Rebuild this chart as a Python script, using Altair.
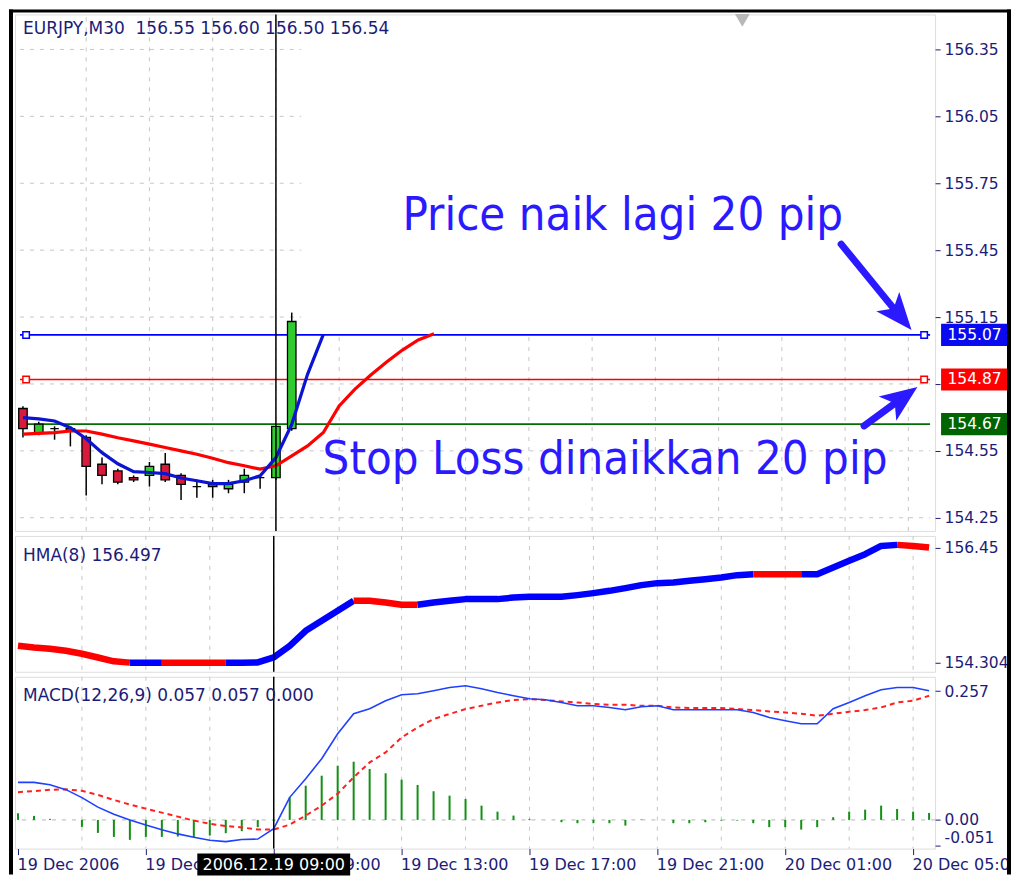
import altair as alt
import pandas as pd

# ---------------- values ----------------
candle_idx = list(range(18))
candle_open = [154.74, 154.63, 154.65, 154.65, 154.61, 154.49, 154.46, 154.43, 154.44,
               154.49, 154.44, 154.39, 154.40, 154.38, 154.41, 154.43, 154.43, 154.65]
candle_high = [154.75, 154.68, 154.66, 154.66, 154.62, 154.52, 154.47, 154.44, 154.50,
               154.54, 154.45, 154.42, 154.42, 154.42, 154.47, 154.44, 154.66, 155.17]
candle_low = [154.61, 154.62, 154.60, 154.57, 154.35, 154.40, 154.40, 154.41, 154.39,
              154.41, 154.33, 154.34, 154.34, 154.36, 154.36, 154.38, 154.42, 154.64]
candle_close = [154.65, 154.67, 154.65, 154.64, 154.48, 154.44, 154.41, 154.42, 154.48,
                154.42, 154.40, 154.39, 154.39, 154.40, 154.44, 154.43, 154.66, 155.13]

fast_ma = [154.699, 154.693, 154.684, 154.654, 154.604, 154.542, 154.492, 154.457, 154.453,
           154.448, 154.428, 154.416, 154.403, 154.403, 154.416, 154.438, 154.520, 154.669,
           154.893, 155.072]
slow_ma = [154.625, 154.628, 154.632, 154.639, 154.639, 154.625, 154.609, 154.595, 154.580,
           154.565, 154.550, 154.535, 154.517, 154.497, 154.483, 154.468, 154.483, 154.527,
           154.572, 154.632, 154.751, 154.827, 154.890, 154.948, 155.002, 155.047, 155.075]

hma = [154.620, 154.588, 154.564, 154.527, 154.471, 154.402, 154.330, 154.306, 154.304,
       154.304, 154.305, 154.304, 154.304, 154.306, 154.305, 154.310, 154.402, 154.620,
       154.899, 155.084, 155.270, 155.456, 155.456, 155.425, 155.382, 155.382, 155.425,
       155.456, 155.488, 155.488, 155.488, 155.517, 155.530, 155.530, 155.530, 155.562,
       155.599, 155.642, 155.692, 155.748, 155.785, 155.796, 155.828, 155.859, 155.889,
       155.934, 155.952, 155.952, 155.950, 155.952, 155.950, 156.075, 156.200, 156.324,
       156.478, 156.497, 156.478, 156.447]
# colour runs of the HMA line: (direction, first bar, last bar)
hma_runs = [("dn", 0, 7), ("up", 7, 9), ("dn", 9, 13), ("up", 13, 21), ("dn", 21, 25),
            ("up", 25, 46), ("dn", 46, 49), ("up", 49, 55), ("dn", 55, 57)]

macd_main = [0.0749, 0.0749, 0.0703, 0.0604, 0.0444, 0.0255, 0.0112, -0.0004, -0.0100, -0.0197,
             -0.0279, -0.0345, -0.0406, -0.0432, -0.0392, -0.0382, -0.0173, 0.0450, 0.0823, 0.1221,
             0.1719, 0.2118, 0.2217, 0.2376, 0.2496, 0.2516, 0.2576, 0.2641, 0.2675, 0.2616,
             0.2542, 0.2476, 0.2416, 0.2396, 0.2343, 0.2277, 0.2277, 0.2243, 0.2197, 0.2257,
             0.2277, 0.2197, 0.2197, 0.2197, 0.2197, 0.2197, 0.2143, 0.2044, 0.1978, 0.1918,
             0.1918, 0.2217, 0.2343, 0.2476, 0.2596, 0.2641, 0.2641, 0.2576]
macd_signal = [0.0554, 0.0574, 0.0600, 0.0610, 0.0580, 0.0500, 0.0398, 0.0305, 0.0225, 0.0145,
               0.0066, -0.0014, -0.0078, -0.0122, -0.0149, -0.0193, -0.0193, -0.0094, 0.0086, 0.0285,
               0.0524, 0.0849, 0.1147, 0.1347, 0.1645, 0.1845, 0.2012, 0.2112, 0.2211, 0.2277,
               0.2343, 0.2390, 0.2410, 0.2390, 0.2363, 0.2343, 0.2311, 0.2297, 0.2297, 0.2277,
               0.2277, 0.2243, 0.2231, 0.2231, 0.2231, 0.2211, 0.2191, 0.2163, 0.2143, 0.2118,
               0.2078, 0.2118, 0.2157, 0.2191, 0.2243, 0.2343, 0.2376, 0.2476]
macd_hist = [0.0133, 0.0080, 0.0020, 0.0000, -0.0139, -0.0259, -0.0339, -0.0398, -0.0339, -0.0339,
             -0.0332, -0.0345, -0.0312, -0.0265, -0.0225, -0.0145, -0.0020, 0.0452, 0.0683, 0.0882,
             0.1082, 0.1161, 0.1016, 0.0930, 0.0803, 0.0697, 0.0572, 0.0484, 0.0418, 0.0285,
             0.0165, 0.0086, 0.0020, 0.0000, -0.0046, -0.0066, -0.0066, -0.0066, -0.0113, 0.0010,
             0.0000, -0.0066, -0.0066, -0.0046, -0.0014, -0.0014, -0.0066, -0.0145, -0.0145, -0.0193,
             -0.0145, 0.0054, 0.0165, 0.0205, 0.0285, 0.0219, 0.0165, 0.0139]

x_tick_values = [0, 8, 16, 24, 32, 40, 48, 56]
# the last label is cut by the window frame in the picture
x_tick_labels = ["19 Dec 2006", "19 Dec 05:00", "19 Dec 09:00", "19 Dec 13:00",
                 "19 Dec 17:00", "19 Dec 21:00", "20 Dec 01:00", "20 Dec 05:0"]
main_ticks = [156.35, 156.05, 155.75, 155.45, 155.15, 154.85, 154.55, 154.25]
hma_ticks = [156.45, 154.304]
macd_ticks = [0.257, 0.0, -0.051]

order_prices = [155.07, 154.87, 154.67]
order_labels = ["155.07", "154.87", "154.67"]

crosshair_bar = 16
crosshair_label = "2006.12.19 09:00"
title_main = "EURJPY,M30\u00a0 156.55 156.60 156.50 156.54"
title_hma = "HMA(8) 156.497"
title_macd = "MACD(12,26,9) 0.057 0.057 0.000"

annot_text = ["Price naik lagi 20 pip", "Stop Loss dinaikkan 20 pip"]
annot_bar = [24.0, 18.95]
annot_price = [155.54, 154.445]
arrow_tail_bar = [51.75, 53.2]
arrow_tail_price = [155.477, 154.662]
arrow_head_bar = [55.39, 55.55]
arrow_head_price = [155.161, 154.784]
arrow_angle = [140, 54]

# ---------------- styles ----------------
NAVY = "#1c1c78"
GRID = "#c6c6c6"
FONT = "DejaVu Sans"
ANN = "#2b1aff"
W = 921
H1, H2, H3 = 517, 136, 172
XDOM = [-0.1875, 57.375]
Y1DOM = [154.191, 156.507]
Y2DOM = [154.136, 156.664]
Y3DOM = [-0.0572, 0.2855]
line_colors = ["#0000ff", "#ff0000", "#007000"]
box_colors = ["#0a0af0", "#ff0000", "#006400"]
candle_colors = {"up": "#2fcc2f", "down": "#d81b3c"}
hma_colors = {"up": "#0000ff", "dn": "#ff0000"}

xs = alt.Scale(domain=XDOM, nice=False, zero=False)
ys1 = alt.Scale(domain=Y1DOM, nice=False, zero=False)
ys2 = alt.Scale(domain=Y2DOM, nice=False, zero=False)
ys3 = alt.Scale(domain=Y3DOM, nice=False, zero=False)

ystyle = dict(orient="right", tickSize=5, tickColor=NAVY, labelColor=NAVY, labelFont=FONT,
              labelFontSize=15.5, labelPadding=4, domain=False, grid=False, title=None,
              zindex=0, labelOverlap=False, labelFlush=False)
ax1 = alt.Axis(values=main_ticks,
               labelExpr="abs(datum.value - 154.85) < 0.001 ? '' : format(datum.value, '.2f')",
               **ystyle)
ax2 = alt.Axis(values=hma_ticks,
               labelExpr="datum.value > 155 ? '156.45' : '154.304'", **ystyle)
ax3 = alt.Axis(values=macd_ticks,
               labelExpr="datum.value > 0.1 ? '0.257' : (datum.value < -0.01 ? '-0.051' : '0.00')",
               labelBaseline={"condition": {"test": "datum.value < -0.01", "value": "bottom"},
                              "value": "middle"},
               **ystyle)
lab_expr = "[" + ",".join("'%s'" % s for s in x_tick_labels) + "][round(datum.value/8)]"
xax = alt.Axis(orient="bottom", values=x_tick_values, labelExpr=lab_expr, tickSize=6,
               tickColor=NAVY, labelColor=NAVY, labelFont=FONT, labelFontSize=16,
               labelAlign="left", labelBaseline="top", labelPadding=2, labelOffset=-1,
               domain=False, grid=False, title=None, zindex=0, labelOverlap=False,
               labelFlush=False)


def X(field, axis=None):
    return alt.X(field + ":Q", scale=xs, axis=axis)


def title_layer(text, y):
    return alt.Chart(pd.DataFrame({"t": [text]})).mark_text(
        align="left", baseline="middle", font=FONT, fontSize=17, color=NAVY
    ).encode(x=alt.value(8), y=alt.value(y), text="t:N")


# ---------------- main panel ----------------
def Y1(field):
    return alt.Y(field + ":Q", scale=ys1, axis=ax1)


vg_bars = [4 * k for k in range(1, 15)]
vg1 = pd.DataFrame({"i": vg_bars, "lo": Y1DOM[0],
                    "hi": [Y1DOM[1] if b <= crosshair_bar else order_prices[0] for b in vg_bars]})
hg1 = pd.DataFrame({"p": main_ticks, "x1": XDOM[0],
                    "x2": [XDOM[1] if p < order_prices[0] else 17.6 for p in main_ticks]})
candles = pd.DataFrame({"i": candle_idx, "o": candle_open, "h": candle_high,
                        "l": candle_low, "c": candle_close})
candles["col"] = [candle_colors["up"] if c >= o else candle_colors["down"]
                  for o, c in zip(candle_open, candle_close)]
fast_df = pd.DataFrame({"i": list(range(len(fast_ma))), "v": fast_ma})
slow_df = pd.DataFrame({"i": list(range(len(slow_ma))), "v": slow_ma})
orders = pd.DataFrame({"p": order_prices, "lab": order_labels, "lc": line_colors,
                       "bc": box_colors, "x1": XDOM[0], "x2": XDOM[1]})
squares = pd.DataFrame({"i": [0.2, 57.0, 0.2, 57.0],
                        "p": [order_prices[0], order_prices[0], order_prices[1], order_prices[1]],
                        "lc": [line_colors[0], line_colors[0], line_colors[1], line_colors[1]]})
annots = pd.DataFrame({"i": annot_bar, "p": annot_price, "t": annot_text})
arrows = pd.DataFrame({"ti": arrow_tail_bar, "tp": arrow_tail_price,
                       "hi": arrow_head_bar, "hp": arrow_head_price, "ang": arrow_angle})
cross = pd.DataFrame({"i": [crosshair_bar]})

RECT_BOX = "M-1,-0.33L1,-0.33L1,0.33L-1,0.33Z"
ARROW_HEAD = "M0,-1L0.75,0.85L0,0.4L-0.75,0.85Z"

main = alt.layer(
    alt.Chart(vg1).mark_rule(color=GRID, strokeDash=[4, 6], strokeWidth=1).encode(
        x=X("i"), y=Y1("lo"), y2="hi"),
    alt.Chart(hg1).mark_rule(color=GRID, strokeDash=[4, 6], strokeWidth=1).encode(
        x=X("x1"), x2="x2", y=Y1("p")),
    alt.Chart(orders).mark_rule(strokeWidth=1.6).encode(
        x=X("x1"), x2="x2", y=Y1("p"), color=alt.Color("lc:N", scale=None)),
    alt.Chart(squares).mark_point(shape="square", size=42, filled=True, fill="white",
                                  strokeWidth=1.5, opacity=1).encode(
        x=X("i"), y=Y1("p"), stroke=alt.Stroke("lc:N", scale=None)),
    alt.Chart(candles).mark_rule(color="black", strokeWidth=1.5).encode(
        x=X("i"), y=Y1("l"), y2="h"),
    alt.Chart(candles).mark_bar(size=8.5, stroke="black", strokeWidth=1.3).encode(
        x=X("i"), y=Y1("o"), y2="c", color=alt.Color("col:N", scale=None)),
    alt.Chart(slow_df).mark_line(color="#ff0000", strokeWidth=3.2).encode(x=X("i"), y=Y1("v")),
    alt.Chart(fast_df).mark_line(color="#0a14d2", strokeWidth=3.2).encode(x=X("i"), y=Y1("v")),
    alt.Chart(orders).mark_point(shape=RECT_BOX, size=4489, filled=True, opacity=1).encode(
        x=alt.value(W + 39.5), y=Y1("p"), color=alt.Color("bc:N", scale=None)),
    alt.Chart(orders).mark_text(font=FONT, fontSize=15.5, color="white").encode(
        x=alt.value(W + 39.5), y=Y1("p"), text="lab:N"),
    alt.Chart(annots).mark_text(align="left", baseline="alphabetic",
                                font="DejaVu Sans Condensed, DejaVu Sans",
                                fontSize=47, color=ANN).encode(
        x=X("i"), y=Y1("p"), text="t:N"),
    alt.Chart(arrows).mark_rule(color=ANN, strokeWidth=7, strokeCap="round").encode(
        x=X("ti"), y=Y1("tp"), x2="hi", y2="hp"),
    alt.Chart(arrows).mark_point(shape=ARROW_HEAD, size=1600, filled=True, color=ANN,
                                 opacity=1).encode(
        x=X("hi"), y=Y1("hp"), angle=alt.Angle("ang:Q", scale=None)),
    alt.Chart(pd.DataFrame({"i": [45.5]})).mark_point(shape="triangle-down", size=220,
                                                      filled=True, color="#b8b8b8",
                                                      opacity=1).encode(
        x=X("i"), y=alt.value(6)),
    alt.Chart(cross).mark_rule(color="black", strokeWidth=1.5).encode(x=X("i")),
    title_layer(title_main, 15),
).properties(width=W, height=H1)

# ---------------- HMA panel ----------------
def Y2(field):
    return alt.Y(field + ":Q", scale=ys2, axis=ax2)


hrows = []
for k, (d, a, b) in enumerate(hma_runs):
    for i in range(a, b + 1):
        hrows.append({"i": i, "v": hma[i], "seg": k, "col": hma_colors[d]})
hma_df = pd.DataFrame(hrows)
vg_df = pd.DataFrame({"i": vg_bars})

hma_panel = alt.layer(
    alt.Chart(vg_df).mark_rule(color=GRID, strokeDash=[4, 6], strokeWidth=1).encode(x=X("i")),
    alt.Chart(hma_df).mark_line(strokeWidth=6.5, strokeJoin="round").encode(
        x=X("i"), y=Y2("v"), detail="seg:N", color=alt.Color("col:N", scale=None)),
    alt.Chart(cross).mark_rule(color="black", strokeWidth=1.5).encode(x=X("i")),
    title_layer(title_hma, 20),
).properties(width=W, height=H2)

# ---------------- MACD panel ----------------
def Y3(field):
    return alt.Y(field + ":Q", scale=ys3, axis=ax3)


macd_df = pd.DataFrame({"i": list(range(len(macd_main))), "m": macd_main,
                        "s": macd_signal, "h": macd_hist})
TOP = -(H1 + H2 + 10)  # top of the first panel, measured from this panel
frame = pd.DataFrame({"x1": [-6, -6, 993], "x2": [-2, 997, 997],
                      "y1": [TOP - 5, TOP - 5, TOP - 5],
                      "y2": [H3 + 26, TOP - 2, H3 + 26]})

macd_panel = alt.layer(
    alt.Chart(vg_df).mark_rule(color=GRID, strokeDash=[4, 6], strokeWidth=1).encode(
        x=X("i", xax)),
    alt.Chart(pd.DataFrame({"z": [0.0]})).mark_rule(color="#b4b4b4", strokeDash=[4, 6],
                                                    strokeWidth=1).encode(y=Y3("z")),
    alt.Chart(macd_df).mark_rule(color="#129012", strokeWidth=2).encode(
        x=X("i", xax), y=Y3("h"), y2=alt.datum(0)),
    alt.Chart(macd_df).mark_line(color="#ff2020", strokeWidth=2, strokeDash=[5, 4]).encode(
        x=X("i", xax), y=Y3("s")),
    alt.Chart(macd_df).mark_line(color="#2040ff", strokeWidth=1.6).encode(
        x=X("i", xax), y=Y3("m")),
    alt.Chart(cross).mark_rule(color="black", strokeWidth=1.5).encode(x=X("i", xax)),
    title_layer(title_macd, 19),
    alt.Chart(cross).mark_point(shape="M-1,-0.144L1,-0.144L1,0.144L-1,0.144Z", size=23409,
                                filled=True, color="black", opacity=1).encode(
        x=X("i", xax), y=alt.value(H3 + 16)),
    alt.Chart(pd.DataFrame({"i": [crosshair_bar], "t": [crosshair_label]})).mark_text(
        font=FONT, fontSize=16, color="white").encode(
        x=X("i", xax), y=alt.value(H3 + 16), text="t:N"),
    alt.Chart(frame).mark_rect(color="black", opacity=1).encode(
        x=alt.X("x1:Q", scale=None, axis=None), x2="x2:Q",
        y=alt.Y("y1:Q", scale=None, axis=None), y2="y2:Q"),
).properties(width=W, height=H3)

chart = alt.vconcat(main, hma_panel, macd_panel, spacing=5, bounds="flush").properties(
    padding={"left": 0, "top": 0, "right": 0, "bottom": 0}
).configure_view(stroke=NAVY, strokeWidth=1.4).configure(background="white")

chart.save("out.html", embed_options={"renderer": "svg", "actions": False})
